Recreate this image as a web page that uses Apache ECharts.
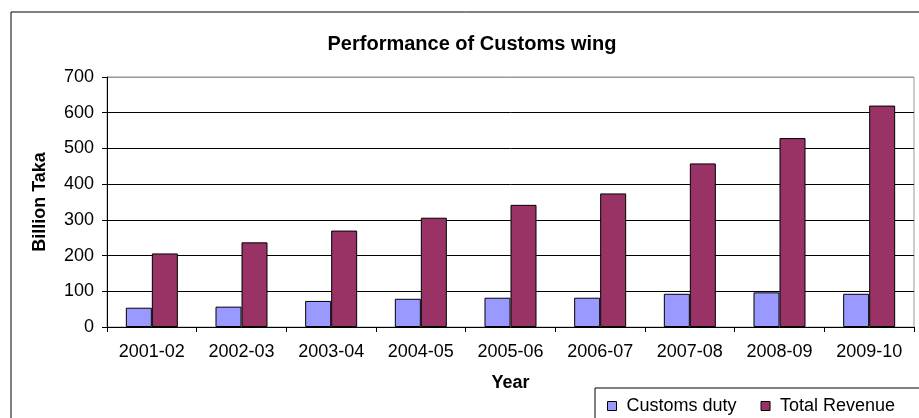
<!DOCTYPE html>
<html>
<head>
<meta charset="utf-8">
<script src="https://cdn.jsdelivr.net/npm/echarts@6/dist/echarts.min.js"></script>
<style>
  html, body { margin: 0; padding: 0; background: #fff; }
  #chart { width: 919px; height: 418px; }
</style>
</head>
<body>
<div id="chart"></div>
<script>
var years = ['2001-02', '2002-03', '2003-04', '2004-05', '2005-06', '2006-07', '2007-08', '2008-09', '2009-10'];
var customsDuty = [54, 57, 73, 79, 82, 82, 93, 97, 93];
var totalRevenue = [206, 237, 270, 306, 342, 374, 458, 529, 620];

var myChart = echarts.init(document.getElementById('chart'));
var font = 'Liberation Sans, Arial, sans-serif';
var option = {
    animation: false,
    textStyle: { fontFamily: font },
    graphic: [{
        type: 'rect',
        shape: { x: 11, y: 12, width: 920, height: 420 },
        style: { fill: 'none', stroke: '#000', lineWidth: 1 },
        z: -1
    }, {
        type: 'rect',
        shape: { x: 595, y: 388, width: 340, height: 40 },
        style: { fill: '#fff', stroke: '#000', lineWidth: 1 },
        z: 0
    }],
    title: {
        text: 'Performance of Customs wing',
        left: 467,
        textAlign: 'center',
        top: 29,
        textStyle: { fontSize: 20, fontWeight: 'bold', color: '#000', fontFamily: font }
    },
    legend: {
        left: 602,
        top: 392,
        z: 5,
        icon: 'rect',
        itemWidth: 9,
        itemHeight: 9,
        itemGap: 24,
        textStyle: { fontSize: 18, color: '#000', fontFamily: font, padding: [0, 0, 0, 5] },
        itemStyle: { borderColor: '#000', borderWidth: 1 },
        data: ['Customs duty', 'Total Revenue']
    },
    grid: {
        left: 107,
        top: 77,
        right: 5,
        bottom: 91,
        show: true,
        borderColor: '#999',
        borderWidth: 1
    },
    xAxis: {
        type: 'category',
        data: years,
        name: 'Year',
        nameLocation: 'middle',
        nameGap: 47,
        nameTextStyle: { fontSize: 18, fontWeight: 'bold', color: '#000', fontFamily: font },
        axisLine: { lineStyle: { color: '#000' } },
        axisTick: { show: true, length: 5, lineStyle: { color: '#000' } },
        axisLabel: { interval: 0, margin: 16, fontSize: 18, color: '#000', fontFamily: font }
    },
    yAxis: {
        type: 'value',
        min: 0,
        max: 700,
        interval: 100,
        name: 'Billion Taka',
        nameLocation: 'middle',
        nameGap: 58,
        nameTextStyle: { fontSize: 18, fontWeight: 'bold', color: '#000', fontFamily: font },
        axisLine: { show: true, lineStyle: { color: '#000' } },
        axisTick: { show: true, length: 5, lineStyle: { color: '#000' } },
        axisLabel: { margin: 13, fontSize: 18, color: '#000', fontFamily: font },
        splitLine: { lineStyle: { color: ['#000', '#000', '#000', '#000', '#000', '#000', '#000', '#999'], width: 1 } }
    },
    series: [{
        name: 'Customs duty',
        type: 'bar',
        data: customsDuty,
        barGap: 0,
        barCategoryGap: '42%',
        itemStyle: { color: '#9999FF', borderColor: '#000', borderWidth: 1 }
    }, {
        name: 'Total Revenue',
        type: 'bar',
        data: totalRevenue,
        barGap: 0,
        barCategoryGap: '42%',
        itemStyle: { color: '#993366', borderColor: '#000', borderWidth: 1 }
    }]
};

option && myChart.setOption(option);
</script>
</body>
</html>
